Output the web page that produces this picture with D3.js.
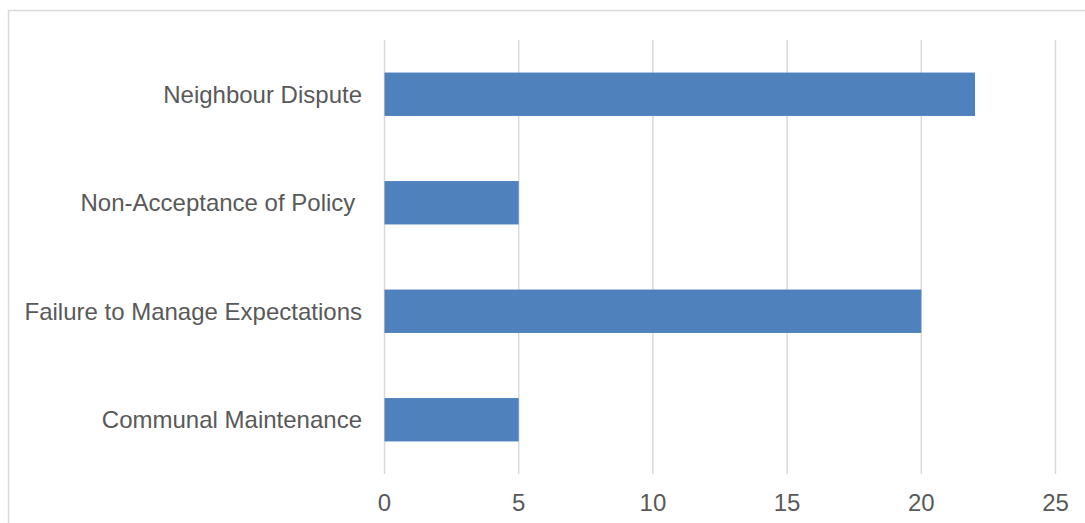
<!DOCTYPE html>
<html><head><meta charset="utf-8">
<script src="https://cdn.jsdelivr.net/npm/d3@7"></script>
<style>body{margin:0;background:#fff}svg{display:block}text{font-family:"Liberation Sans",Arial,sans-serif}</style>
</head><body>
<svg id="c" width="1085" height="523"></svg>
<script>
const categories = ["Neighbour Dispute", "Non-Acceptance of Policy ", "Failure to Manage Expectations", "Communal Maintenance"];
const values = [22, 5, 20, 5];
const tickValues = [0, 5, 10, 15, 20, 25];

(function () {
const svg = d3.select("#c");
svg.append("rect").attr("x", 8.5).attr("y", 10.5).attr("width", 1090).attr("height", 530)
  .attr("fill", "none").attr("stroke", "#d9d9d9").attr("stroke-width", 1.5);

const pLeft = 384.5, pRight = 1055.5, pTop = 40, pBottom = 474;
const x = d3.scaleLinear().domain([0, 25]).range([pLeft, pRight]);
const y = d3.scaleBand().domain(categories).range([pTop, pBottom]).paddingInner(0.6).paddingOuter(0.3);

svg.append("g").selectAll("line").data(tickValues).join("line")
  .attr("x1", d => x(d)).attr("x2", d => x(d)).attr("y1", pTop).attr("y2", pBottom)
  .attr("stroke", "#d9d9d9").attr("stroke-width", 1.5);

svg.append("g").selectAll("rect").data(values).join("rect")
  .attr("x", x(0)).attr("y", (d, i) => y(categories[i]))
  .attr("width", d => x(d) - x(0)).attr("height", y.bandwidth())
  .attr("fill", "#4f81bd");

svg.append("g").selectAll("text").data(categories).join("text")
  .attr("x", 362).attr("y", d => y(d) + y.bandwidth() / 2).attr("dy", "0.35em")
  .attr("text-anchor", "end").attr("font-size", 24).attr("fill", "#595959")
  .style("white-space", "pre").text(d => d);

svg.append("g").selectAll("text").data(tickValues).join("text")
  .attr("x", d => x(d)).attr("y", 503).attr("dy", "0.35em")
  .attr("text-anchor", "middle").attr("font-size", 24).attr("fill", "#595959")
  .text(d => d);
})();
</script>
</body></html>
